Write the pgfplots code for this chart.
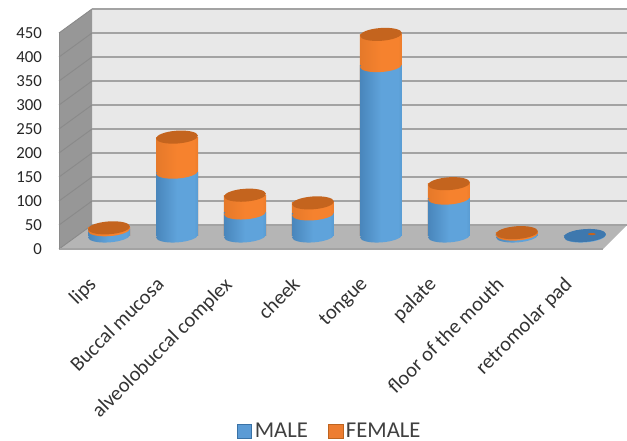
\documentclass[border=0pt]{standalone}
\usepackage{fontspec}
\setmainfont{Carlito}
\usepackage{pgfplots}
\usepackage{pgfplotstable}
\pgfplotsset{compat=1.18}

\definecolor{wallback}{HTML}{E8E8E8}
\definecolor{wallside}{HTML}{979797}
\definecolor{wallfloor}{HTML}{B5B5B5}
\definecolor{gridc}{HTML}{A3A3A3}
\definecolor{sidegrid}{HTML}{8A8A8A}
\definecolor{bluemid}{HTML}{5FA3DB}
\definecolor{blueedge}{HTML}{3A72A6}
\definecolor{orangemid}{HTML}{F6822E}
\definecolor{orangeedge}{HTML}{BE6420}
\definecolor{orangecap}{HTML}{C4641E}
\definecolor{bluecap}{HTML}{3E78AE}
\definecolor{legblue}{HTML}{5B9BD5}
\definecolor{legorange}{HTML}{ED7D31}

\pgfdeclarehorizontalshading{bluecyl}{100bp}{
  color(0bp)=(blueedge); color(25bp)=(blueedge!60!bluemid); color(50bp)=(bluemid);
  color(70bp)=(bluemid); color(100bp)=(blueedge)}
\pgfdeclarehorizontalshading{orangecyl}{100bp}{
  color(0bp)=(orangeedge); color(25bp)=(orangemid!70!orangeedge); color(50bp)=(orangemid);
  color(70bp)=(orangemid); color(100bp)=(orangeedge)}

% one reference pixel is 0.75pt; cylinder 42 x 12 px, slightly tilted
\newcommand{\discpath}{\pgfpathellipse{\pgfpointorigin}{\pgfqpoint{15.7pt}{1.1pt}}{\pgfqpoint{-0.3pt}{4.8pt}}}
\pgfdeclareplotmark{bluedisc}{\discpath\pgfshadepath{bluecyl}{0}\pgfusepath{discard}}
\pgfdeclareplotmark{orangedisc}{\discpath\pgfshadepath{orangecyl}{0}\pgfusepath{discard}}
\pgfdeclareplotmark{orangecap}{\pgfsetfillcolor{orangecap}\discpath\pgfusepath{fill}}
\pgfdeclareplotmark{bluecap}{\pgfsetfillcolor{bluecap}\discpath\pgfusepath{fill}}
\pgfdeclareplotmark{speck}{\pgfsetfillcolor{orangecap}\pgfpathellipse{\pgfpointorigin}{\pgfqpoint{3pt}{0pt}}{\pgfqpoint{0pt}{0.8pt}}\pgfusepath{fill}}

\pgfplotstableread{
i male female total
0 13 4 17
1 133 73 206
2 48 37 85
3 46 23 69
4 355 65 420
5 79 30 109
6 4 3 7
}\stacks
\pgfplotstableread{
i male
0 13
1 133
2 48
3 46
4 355
5 79
6 4
7 1
}\males

\pgfplotsset{
  full/.style={
    at={(0,0)}, anchor=south west, scale only axis,
    width=470.25pt, height=330.75pt,
    xmin=-1.603, xmax=7.618,
  },
  cyl/.style={ybar, bar width=31.5pt, bar shift=0pt, draw=none, shade, shading=#1, forget plot},
}

\begin{document}
\begin{tikzpicture}
  % frame: y is read on the front edge of the side wall
  \begin{axis}[full,
      ymin=-400, ymax=518.75,
      axis line style={draw=none}, major tick length=0pt,
      xtick={0,...,7},
      xticklabels={lips, Buccal mucosa, alveolobuccal complex, cheek, tongue, palate, floor of the mouth, retromolar pad},
      xticklabel style={xshift=-16.5pt, yshift=129pt, rotate=45, anchor=north east,
        font=\fontsize{15.4}{17}\selectfont, text=black!80},
      ytick={0,50,...,450},
      yticklabel style={anchor=east, xshift=35pt,
        font=\fontsize{12.6}{14}\selectfont, text=black!85,
        /pgf/number format/assume math mode=true},
    ]
    \addplot[fill=wallback, draw=none] coordinates {(-0.25,50) (7.618,50) (7.618,500) (-0.25,500)} --cycle;
    \addplot[fill=wallside, draw=none] coordinates {(-0.735,0) (-0.25,50) (-0.25,500) (-0.735,450)} --cycle;
    \addplot[fill=wallfloor, draw=none] coordinates {(-0.735,0) (7.265,0) (7.618,50) (-0.25,50)} --cycle;
    % grid on the back wall and on the side wall
    \pgfplotsinvokeforeach{0,50,...,450}{
      \addplot[sidegrid, line width=0.7pt] coordinates {(-0.735,#1) (-0.25,#1+50)};
      \addplot[gridc, line width=1.1pt] coordinates {(-0.25,#1+50) (7.618,#1+50)};
    }
    \addplot[gridc, line width=1pt] coordinates {(-0.735,0) (7.265,0)};
    \addplot[sidegrid, line width=0.6pt] coordinates {(-0.735,0) (-0.735,450)};
  \end{axis}
  % cylinders: y = 0 in the middle of the floor
  \begin{axis}[full,
      ymin=-427.08, ymax=491.67,
      hide axis,
      legend columns=2,
      legend style={at={(axis cs:3.25,-407)}, anchor=center, draw=none, fill=none,
        font=\fontsize{17}{18}\selectfont, text=black!75,
        /tikz/every even column/.append style={column sep=13pt}},
    ]
    \addlegendimage{legend image code/.code={\draw[fill=legblue, draw=blueedge, line width=0.5pt] (0,-5.3pt) rectangle (11pt,5.3pt);}}
    \addlegendentry{MALE}
    \addlegendimage{legend image code/.code={\draw[fill=legorange, draw=orangeedge, line width=0.5pt] (0,-5.3pt) rectangle (11pt,5.3pt);}}
    \addlegendentry{FEMALE}

    \addplot[only marks, mark=bluedisc, forget plot] table[x=i, y expr=0] {\males};
    % each cylinder its own plot, so that the shading runs across one bar
    \pgfplotsinvokeforeach{0,...,6}{
      \addplot[cyl=orangecyl, restrict x to domain=#1:#1] table[x=i, y=total] {\stacks};
    }
    \pgfplotsinvokeforeach{0,...,7}{
      \addplot[cyl=bluecyl, restrict x to domain=#1:#1] table[x=i, y=male] {\males};
    }
    \addplot[only marks, mark=orangedisc, forget plot] table[x=i, y=male] {\stacks};
    \addplot[only marks, mark=orangecap, forget plot] table[x=i, y=total] {\stacks};
    \addplot[only marks, mark=bluecap, forget plot] coordinates {(7,1)};
    \addplot[only marks, mark=speck, forget plot] coordinates {(7.1,4)};
  \end{axis}
  \pgfresetboundingbox
  \path (0,0) rectangle (470.25pt,330.75pt);
\end{tikzpicture}
\end{document}
